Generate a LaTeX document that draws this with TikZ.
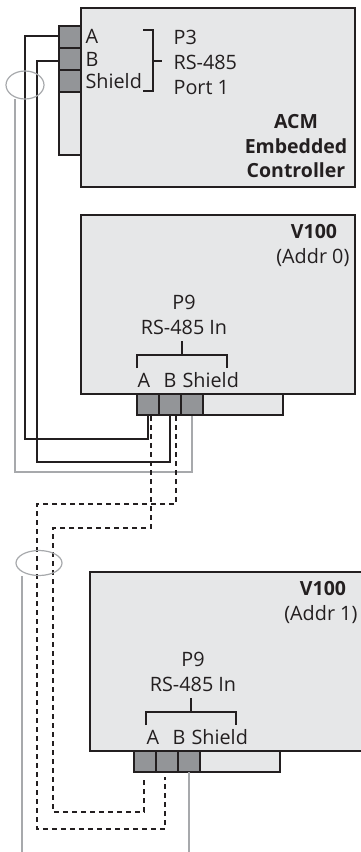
\documentclass[tikz,border=0pt]{standalone}
\usepackage{fontspec}
\usetikzlibrary{shapes.geometric}
\setmainfont{Open Sans}
\definecolor{boxfill}{HTML}{E6E7E8}
\definecolor{termfill}{HTML}{939598}
\definecolor{linedark}{HTML}{231F20}
\definecolor{shieldgray}{HTML}{A7A9AC}
\begin{document}
\begin{tikzpicture}[x=1pt,y=-1pt,line width=1.2pt,
  every node/.style={text=linedark,font=\fontsize{19.8}{22}\selectfont,inner sep=0pt},
  board/.style={draw=linedark,fill=boxfill},
  term/.style={draw=linedark,fill=termfill},
  wire/.style={draw=linedark},
  dashwire/.style={draw=linedark,dashed,dash pattern=on 5pt off 4pt},
  shieldwire/.style={draw=shieldgray},
  bracket/.style={draw=linedark},
  title/.style={font=\fontsize{19.5}{22}\selectfont\bfseries}
]
    \useasboundingbox (0,0) rectangle (361,852);
    % ACM
    \draw[board] (59,26) rectangle (81,155);
    \draw[board] (81,8) rectangle (355,187);
    \draw[term] (59,26) rectangle (81,48);
    \draw[term] (59,48) rectangle (81,70);
    \draw[term] (59,70) rectangle (81,92);
    \coordinate (acmA) at (59,36);
    \coordinate (acmB) at (59,61);
    \coordinate (acmS) at (15,99);
    \node[anchor=base west] (a1) at (85,43) {A};
    \node[anchor=base west] (b1) at (85,66) {B};
    \node[anchor=base west] (s1) at (85,88) {Shield};
    \draw[bracket] (143,30) -- (153,30) -- (153,91) -- (143,91);
    \draw[bracket] (153,61) -- (162,61);
    \node[anchor=base west] (p3) at (173,44) {P3};
    \node[anchor=base west] (rs3) at (173,69) {RS-485};
    \node[anchor=base west] (port) at (173,94) {Port 1};
    \node[anchor=base,title] (acm1) at (296,128) {ACM};
    \node[anchor=base,title] (acm2) at (296,153) {Embedded};
    \node[anchor=base,title] (acm3) at (296,177) {Controller};
    % V100 addr 0
    \draw[board] (137,394) rectangle (283,415);
    \draw[board] (81,215) rectangle (355,394);
    \draw[term] (137,394) rectangle (159,415);
    \draw[term] (159,394) rectangle (181,415);
    \draw[term] (181,394) rectangle (203,415);
    \node[anchor=base,title] (v0) at (314,238) {V100};
    \node[anchor=base east] (addr0) at (350,263) {(Addr 0)};
    \node[anchor=base] (p9a) at (184,309) {P9};
    \node[anchor=base] (rsa) at (184,334) {RS-485 In};
    \draw[bracket] (182,341) -- (182,355);
    \draw[bracket] (137,368) -- (137,355) -- (227,355) -- (227,368);
    \node[anchor=base west] (a2) at (137,387) {A};
    \node[anchor=base west] (b2) at (163,387) {B};
    \node[anchor=base west] (s2) at (182,387) {Shield};
    % V100 addr 1
    \draw[board] (134,751) rectangle (280,772);
    \draw[board] (90,572) rectangle (364,751);
    \draw[term] (134,751) rectangle (156,772);
    \draw[term] (156,751) rectangle (178,772);
    \draw[term] (178,751) rectangle (200,772);
    \node[anchor=base,title] (v1) at (323,595) {V100};
    \node[anchor=base east] (addr1) at (358,620) {(Addr 1)};
    \node[anchor=base] (p9b) at (193,666) {P9};
    \node[anchor=base] (rsb) at (193,691) {RS-485 In};
    \draw[bracket] (191,698) -- (191,712);
    \draw[bracket] (146,725) -- (146,712) -- (236,712) -- (236,725);
    \node[anchor=base west] (a3) at (146,744) {A};
    \node[anchor=base west] (b3) at (172,744) {B};
    \node[anchor=base west] (s3) at (191,744) {Shield};
    % wiring
    \coordinate (p0A) at (148,416);
    \coordinate (p0B) at (170,416);
    \coordinate (p0S) at (192,416);
    \coordinate (p0C) at (151,416);
    \coordinate (p0D) at (176,416);
    \coordinate (p1A) at (144,777);
    \coordinate (p1B) at (165,777);
    \coordinate (p1S) at (189,772);
    \coordinate (endL) at (22,852);
    \coordinate (endR) at (189,852);
    \draw[wire] (acmA) -| (25,439) -| (p0A);
    \draw[wire] (acmB) -| (37,462) -| (p0B);
    \draw[shieldwire] (acmS) |- (192,472) -- (p0S);
    \draw[dashwire] (p0C) |- (53,528) |- (144,812) -- (p1A);
    \draw[dashwire] (p0D) |- (37,504) |- (165,829) -- (p1B);
    \draw[shieldwire] (22,576) -- (endL);
    \draw[shieldwire] (p1S) -- (endR);
    \node[draw=shieldgray,ellipse,minimum width=38pt,minimum height=28pt] (shield1) at (25,85) {};
    \node[draw=shieldgray,ellipse,minimum width=46pt,minimum height=25pt] (shield2) at (39,563) {};
\end{tikzpicture}
\end{document}
